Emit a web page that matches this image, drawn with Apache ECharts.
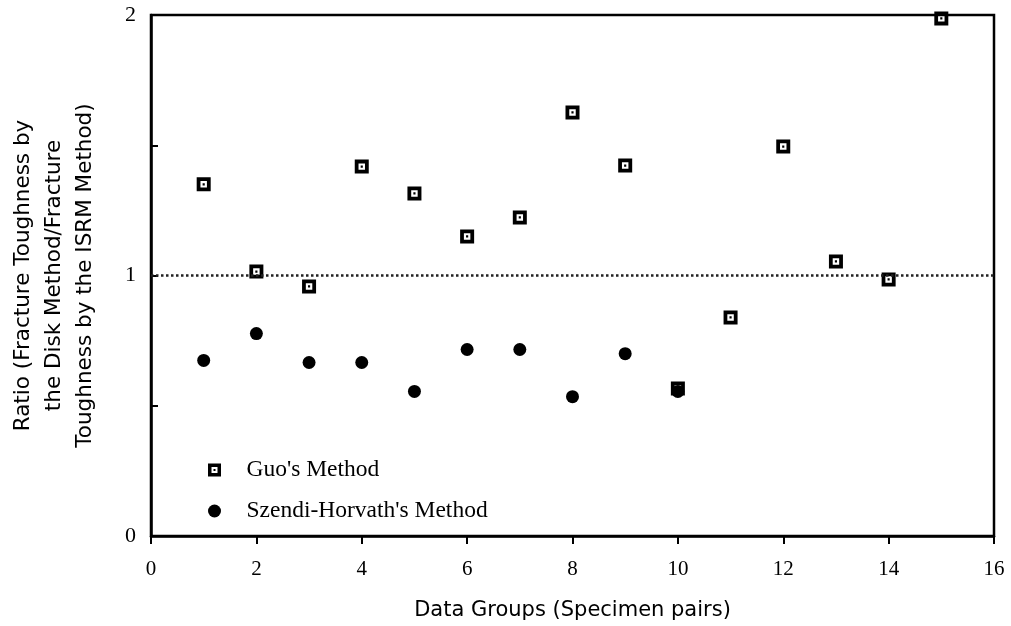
<!DOCTYPE html>
<html>
<head>
<meta charset="utf-8">
<script src="https://cdn.jsdelivr.net/npm/echarts@6/dist/echarts.min.js"></script>
<style>html,body{margin:0;padding:0;background:#fff}#c{width:1011px;height:626px}</style>
</head>
<body>
<div id="c"></div>
<script>
const groups = [1, 2, 3, 4, 5, 6, 7, 8, 9, 10, 11, 12, 13, 14, 15];
const guoRatio = [1.35, 1.015, 0.958, 1.418, 1.315, 1.15, 1.223, 1.626, 1.422, 0.566, 0.839, 1.495, 1.054, 0.985, 1.987];
const szendiGroups = [1, 2, 3, 4, 5, 6, 7, 8, 9, 10];
const szendiRatio = [0.674, 0.777, 0.666, 0.666, 0.555, 0.716, 0.716, 0.535, 0.700, 0.555];
const xTicks = [0, 2, 4, 6, 8, 10, 12, 14, 16];
const yLabels = [0, 1, 2];
const referenceRatio = 1;
const seriesNames = ["Guo's Method", "Szendi-Horvath's Method"];

const squareDot = 'path://M0,0H26V26H0Z M7,7V19H19V7Z M11,11H15V15H11Z';

const chart = echarts.init(document.getElementById('c'), null, {renderer: 'canvas'});
chart.setOption({
  animation: false,
  backgroundColor: '#fff',
  grid: {left: 151, right: 17, top: 15, bottom: 90, outerBoundsMode: 'none', containLabel: false,
    show: true, borderColor: '#000', borderWidth: 2.5, backgroundColor: 'transparent'},
  legend: {
    orient: 'vertical', left: 203, top: 453, itemGap: 17,
    itemWidth: 54, itemHeight: 13,
    textStyle: {fontFamily: 'Liberation Serif', fontSize: 23.5, color: '#000'},
    data: [{name: seriesNames[0], icon: squareDot}, {name: seriesNames[1], icon: 'circle'}]
  },
  xAxis: {
    type: 'value', min: xTicks[0], max: xTicks[xTicks.length - 1], interval: 2,
    name: 'Data Groups (Specimen pairs)', nameLocation: 'middle', nameGap: 64,
    nameTextStyle: {fontFamily: 'DejaVu Sans', fontSize: 21, color: '#000'},
    axisLine: {lineStyle: {color: '#000', width: 2.5}},
    axisTick: {inside: false, length: 8, lineStyle: {color: '#000', width: 2}},
    axisLabel: {fontFamily: 'Liberation Serif', fontSize: 21, color: '#000', margin: 23},
    splitLine: {show: false}
  },
  yAxis: {
    type: 'value', min: 0, max: 2, interval: 0.5,
    name: 'Ratio (Fracture Toughness by\nthe Disk Method/Fracture\nToughness by the ISRM Method)',
    nameLocation: 'middle', nameGap: 50,
    nameTextStyle: {fontFamily: 'DejaVu Sans', fontSize: 21.5, color: '#000', lineHeight: 31},
    axisLine: {lineStyle: {color: '#000', width: 2.5}},
    axisTick: {inside: true, length: 7, lineStyle: {color: '#000', width: 2}},
    axisLabel: {fontFamily: 'Liberation Serif', fontSize: 22, color: '#000', margin: 15,
      formatter: v => yLabels.includes(v) ? String(v) : ''},
    splitLine: {show: false}
  },
  series: [
    {
      name: seriesNames[0], type: 'scatter', symbol: squareDot, symbolSize: 14, z: 2,
      itemStyle: {color: '#000', opacity: 1},
      data: groups.map((g, i) => [g, guoRatio[i]]),
      markLine: {
        silent: true, symbol: 'none', label: {show: false},
        lineStyle: {color: '#222', type: 'dotted', width: 2.5},
        data: [{yAxis: referenceRatio}]
      }
    },
    {
      name: seriesNames[1], type: 'scatter', symbol: 'circle', symbolSize: 13, z: 3,
      itemStyle: {color: '#000', opacity: 1},
      data: szendiGroups.map((g, i) => [g, szendiRatio[i]])
    }
  ]
});
</script>
</body>
</html>
